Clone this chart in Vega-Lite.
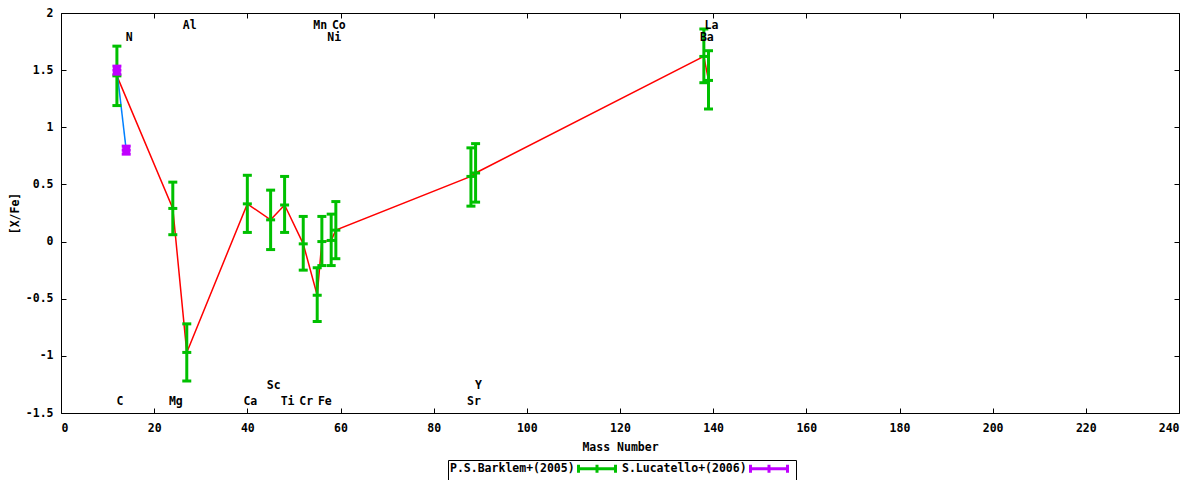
{
  "$schema": "https://vega.github.io/schema/vega-lite/v6.json",
  "width": 1118,
  "height": 400,
  "autosize": {"type": "none"},
  "padding": {"left": 61, "top": 13, "right": 21, "bottom": 67},
  "background": "white",
  "config": {
    "view": {"stroke": "#000000", "strokeWidth": 1},
    "font": "DejaVu Sans Mono",
    "axis": {
      "grid": false,
      "domain": false,
      "tickColor": "#000000",
      "tickSize": -5,
      "tickWidth": 1,
      "labelFont": "DejaVu Sans Mono",
      "labelFontWeight": "bold",
      "labelFontSize": 11.5,
      "labelColor": "#000000",
      "titleFont": "DejaVu Sans Mono",
      "titleFontWeight": "bold",
      "titleFontSize": 11.5,
      "titleColor": "#000000"
    },
    "legend": {
      "orient": "none",
      "legendX": 387,
      "legendY": 447,
      "direction": "horizontal",
      "strokeColor": "#000000",
      "padding": 2,
      "labelFont": "DejaVu Sans Mono",
      "labelFontWeight": "bold",
      "labelFontSize": 11.5,
      "labelColor": "#000000",
      "symbolType": "M-3.7,0H3.7M-3.7,-0.8V0.8M3.7,-0.8V0.8M0,-0.8V0.8",
      "symbolSize": 100,
      "symbolStrokeWidth": 3,
      "symbolFillColor": "transparent",
      "labelOffset": -153.5,
      "symbolOffset": 140.5,
      "columnPadding": 0
    }
  },
  "datasets": {
    "points": [
      {"source": "P.S.Barklem+(2005)", "element": "C", "mass": 12, "value": 1.45, "lo": 1.19, "hi": 1.71},
      {"source": "P.S.Barklem+(2005)", "element": "Mg", "mass": 24, "value": 0.29, "lo": 0.06, "hi": 0.52},
      {"source": "P.S.Barklem+(2005)", "element": "Al", "mass": 27, "value": -0.97, "lo": -1.22, "hi": -0.72},
      {"source": "P.S.Barklem+(2005)", "element": "Ca", "mass": 40, "value": 0.33, "lo": 0.08, "hi": 0.58},
      {"source": "P.S.Barklem+(2005)", "element": "Sc", "mass": 45, "value": 0.19, "lo": -0.07, "hi": 0.45},
      {"source": "P.S.Barklem+(2005)", "element": "Ti", "mass": 48, "value": 0.32, "lo": 0.08, "hi": 0.57},
      {"source": "P.S.Barklem+(2005)", "element": "Cr", "mass": 52, "value": -0.02, "lo": -0.25, "hi": 0.22},
      {"source": "P.S.Barklem+(2005)", "element": "Mn", "mass": 55, "value": -0.47, "lo": -0.7, "hi": -0.23},
      {"source": "P.S.Barklem+(2005)", "element": "Fe", "mass": 56, "value": 0.0, "lo": -0.21, "hi": 0.22},
      {"source": "P.S.Barklem+(2005)", "element": "Ni", "mass": 58, "value": 0.01, "lo": -0.21, "hi": 0.24},
      {"source": "P.S.Barklem+(2005)", "element": "Co", "mass": 59, "value": 0.1, "lo": -0.15, "hi": 0.35},
      {"source": "P.S.Barklem+(2005)", "element": "Sr", "mass": 88, "value": 0.57, "lo": 0.31, "hi": 0.82},
      {"source": "P.S.Barklem+(2005)", "element": "Y", "mass": 89, "value": 0.6, "lo": 0.345, "hi": 0.857},
      {"source": "P.S.Barklem+(2005)", "element": "Ba", "mass": 138, "value": 1.62, "lo": 1.39, "hi": 1.86},
      {"source": "P.S.Barklem+(2005)", "element": "La", "mass": 139, "value": 1.41, "lo": 1.16, "hi": 1.67},
      {"source": "S.Lucatello+(2006)", "element": "C", "mass": 12, "value": 1.5, "lo": 1.465, "hi": 1.535},
      {"source": "S.Lucatello+(2006)", "element": "N", "mass": 14, "value": 0.8, "lo": 0.765, "hi": 0.835}
    ],
    "labels": [
      {"element": "Al", "mass": 27, "pos": 1.885},
      {"element": "N", "mass": 14, "pos": 1.78},
      {"element": "Mn", "mass": 55, "pos": 1.885},
      {"element": "Co", "mass": 59, "pos": 1.885},
      {"element": "Ni", "mass": 58, "pos": 1.78},
      {"element": "La", "mass": 139, "pos": 1.885},
      {"element": "Ba", "mass": 138, "pos": 1.78},
      {"element": "C", "mass": 12, "pos": -1.405},
      {"element": "Mg", "mass": 24, "pos": -1.405},
      {"element": "Ca", "mass": 40, "pos": -1.405},
      {"element": "Sc", "mass": 45, "pos": -1.265},
      {"element": "Ti", "mass": 48, "pos": -1.405},
      {"element": "Cr", "mass": 52, "pos": -1.405},
      {"element": "Fe", "mass": 56, "pos": -1.405},
      {"element": "Y", "mass": 89, "pos": -1.265},
      {"element": "Sr", "mass": 88, "pos": -1.405}
    ]
  },
  "resolve": {"axis": {"x": "independent", "y": "independent"}},
  "layer": [
    {
      "data": {"name": "points"},
      "transform": [{"filter": "datum.source === 'P.S.Barklem+(2005)'"}],
      "mark": {"type": "line", "color": "#ff0000", "strokeWidth": 1.5},
      "encoding": {
        "x": {"field": "mass", "type": "quantitative", "scale": {"domain": [0, 240], "nice": false},
              "axis": {"orient": "bottom", "values": [0,20,40,60,80,100,120,140,160,180,200,220,240], "title": "Mass Number", "labelPadding": 14, "titlePadding": 8}},
        "y": {"field": "value", "type": "quantitative", "scale": {"domain": [-1.5, 2], "nice": false, "zero": false},
              "axis": {"orient": "left", "values": [-1.5,-1,-0.5,0,0.5,1,1.5,2], "labelExpr": "'' + datum.value", "title": "[X/Fe]", "labelPadding": 13, "titlePadding": 5}},
        "order": {"field": "mass"}
      }
    },
    {
      "data": {"name": "points"},
      "transform": [{"filter": "datum.source === 'S.Lucatello+(2006)'"}],
      "mark": {"type": "line", "color": "#0080ff", "strokeWidth": 1.5},
      "encoding": {
        "x": {"field": "mass", "type": "quantitative",
              "axis": {"orient": "top", "values": [0,20,40,60,80,100,120,140,160,180,200,220,240], "labels": false, "title": null}},
        "y": {"field": "value", "type": "quantitative",
              "axis": {"orient": "right", "values": [-1.5,-1,-0.5,0,0.5,1,1.5,2], "labels": false, "title": null}},
        "order": {"field": "mass"}
      }
    },
    {
      "data": {"name": "points"},
      "mark": {"type": "rule", "strokeWidth": 3},
      "encoding": {
        "x": {"field": "mass", "type": "quantitative", "axis": null},
        "y": {"field": "lo", "type": "quantitative", "axis": null},
        "y2": {"field": "hi"},
        "color": {"field": "source", "type": "nominal",
                  "scale": {"domain": ["P.S.Barklem+(2005)", "S.Lucatello+(2006)"], "range": ["#00c000", "#c000ff"]},
                  "legend": {"title": null}}
      }
    },
    {
      "data": {"name": "points"},
      "transform": [{"fold": ["lo", "value", "hi"], "as": ["kind", "yy"]}],
      "mark": {"type": "tick", "orient": "horizontal", "thickness": 3, "size": 9, "opacity": 1},
      "encoding": {
        "x": {"field": "mass", "type": "quantitative", "axis": null},
        "y": {"field": "yy", "type": "quantitative", "axis": null},
        "color": {"field": "source", "type": "nominal", "legend": null}
      }
    },
    {
      "data": {"name": "points"},
      "transform": [{"filter": "datum.source === 'S.Lucatello+(2006)'"}],
      "mark": {"type": "square", "size": 60, "opacity": 1, "color": "#c000ff"},
      "encoding": {
        "x": {"field": "mass", "type": "quantitative", "axis": null},
        "y": {"field": "value", "type": "quantitative", "axis": null}
      }
    },
    {
      "data": {"name": "labels"},
      "mark": {"type": "text", "font": "DejaVu Sans Mono", "fontWeight": "bold", "fontSize": 11.5, "color": "#000000", "align": "center", "baseline": "middle", "dx": 3},
      "encoding": {
        "x": {"field": "mass", "type": "quantitative", "axis": null},
        "y": {"field": "pos", "type": "quantitative", "axis": null},
        "text": {"field": "element"}
      }
    }
  ]
}
